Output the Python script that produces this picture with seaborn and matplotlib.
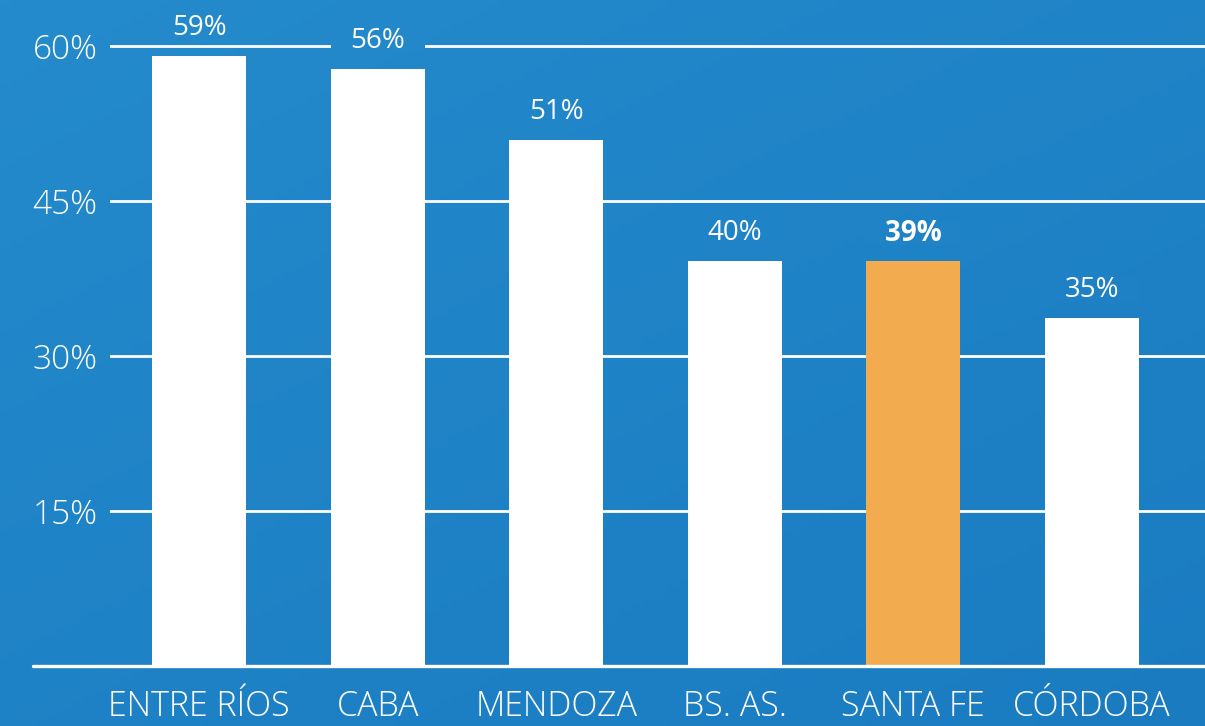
import numpy as np
import pandas as pd
import matplotlib
matplotlib.use("Agg")
import matplotlib.pyplot as plt
from matplotlib.colors import LinearSegmentedColormap
from matplotlib.patches import Rectangle
import seaborn as sns

## Data
provincias = ["ENTRE RÍOS", "CABA", "MENDOZA", "BS. AS.", "SANTA FE", "CÓRDOBA"]
valores = [59.0, 57.8, 50.9, 39.2, 39.2, 33.7]
etiquetas = ["59%", "56%", "51%", "40%", "39%", "35%"]
destacada = "SANTA FE"
ticks_y = [15, 30, 45, 60]

df = pd.DataFrame({"provincia": provincias, "valor": valores})

bg_top = "#248bcc"
bg_bot = "#1a7bc1"
blanco = "#ffffff"
naranja = "#f2ab4e"

sns.set_style("white")
plt.rcParams["font.family"] = ["Open Sans", "DejaVu Sans"]

fig = plt.figure(figsize=(12.05, 7.26), dpi=100)

## background gradient
cmap = LinearSegmentedColormap.from_list("fondo", [bg_top, bg_bot])

def fondo(fx, fy):
    # fx, fy in figure fraction (fy measured from the top)
    return 0.45 * fx + 0.55 * fy

bg = fig.add_axes([0, 0, 1, 1], zorder=0)
gx, gy = np.meshgrid(np.linspace(0, 1, 200), np.linspace(0, 1, 120))
bg.imshow(fondo(gx, gy), cmap=cmap, vmin=0, vmax=1, aspect="auto",
          extent=[0, 1, 0, 1], origin="upper")
bg.axis("off")

W, H = 1205, 726
base_px = 666
px_per_pct = 620 / 60
paso = 178.5
ancho = 0.525
ax = fig.add_axes([110 / W, (H - base_px) / H, 1 - 110 / W, base_px / H], zorder=1)
ax.patch.set_alpha(0)

colores = [naranja if p == destacada else blanco for p in provincias]
sns.barplot(data=df, x="provincia", y="valor", hue="provincia", palette=colores,
            legend=False, width=ancho, saturation=1, linewidth=0, ax=ax, zorder=3)

ax.set_xlim(-0.5, -0.5 + (W - 110) / paso)
ax.set_ylim(0, base_px / px_per_pct)

## gridlines
for t in ticks_y:
    ax.axhline(t, color=blanco, lw=2, zorder=1)
ax.plot([-77 / 1095, 1], [0, 0], color=blanco, lw=2.4, transform=ax.get_yaxis_transform(),
        clip_on=False, zorder=4)

ax.set_yticks(ticks_y)
ax.set_yticklabels([f"{t}%" for t in ticks_y], color=blanco, fontsize=24, fontweight="light")
ax.tick_params(axis="y", length=0, pad=9)
ax.tick_params(axis="x", length=0, pad=17)
ax.set_xticks(range(len(provincias)))
ax.set_xticklabels(provincias, color=blanco, fontsize=24.5, fontweight="light")
ax.set_xlabel("")
ax.set_ylabel("")
sns.despine(ax=ax, left=True, bottom=True, right=True, top=True)

## value labels; a bar-wide strip of background colour cuts the gridline under them
alto = 2.3
for i, (v, lab) in enumerate(zip(valores, etiquetas)):
    peso = "bold" if provincias[i] == destacada else "normal"
    y = v + 2.7
    fx = (110 + (i + 0.5) * paso) / W
    fy = (base_px - y * px_per_pct) / H
    ax.add_patch(Rectangle((i - ancho / 2, y - alto / 2), ancho, alto,
                           fc=cmap(fondo(fx, fy)), ec="none", zorder=2))
    ax.text(i, y, lab, ha="center", va="center", color=blanco, fontsize=20,
            fontweight=peso, zorder=5)

fig.savefig("out.png", dpi=100)
